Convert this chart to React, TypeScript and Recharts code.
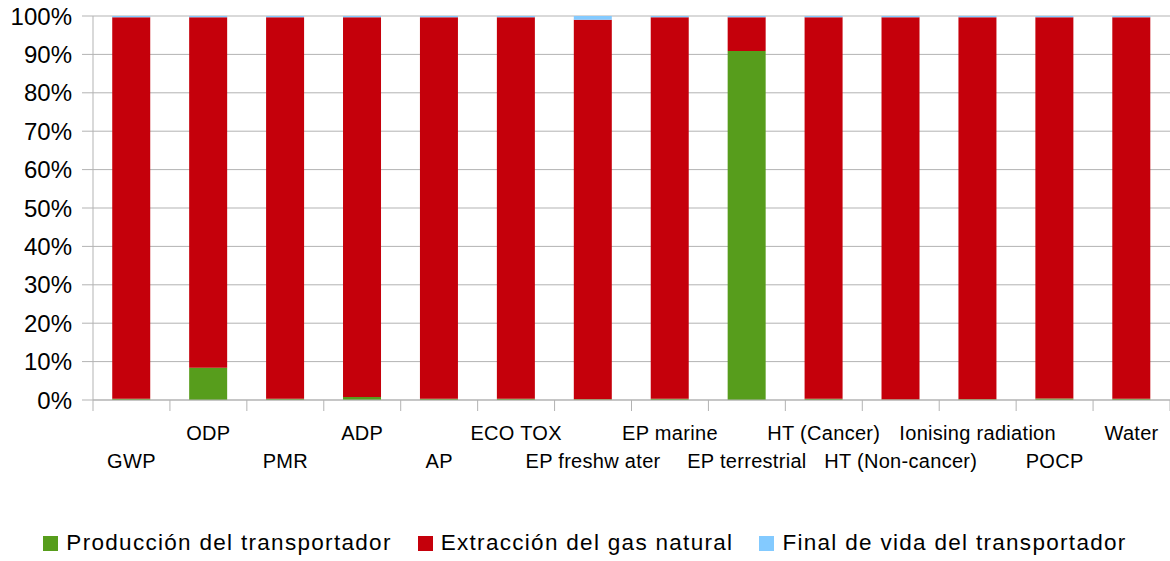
import React from "react";
import { BarChart, Bar, XAxis, YAxis, CartesianGrid, Legend } from "recharts";

const categories = [
  "GWP", "ODP", "PMR", "ADP", "AP", "ECO TOX", "EP freshw ater", "EP marine",
  "EP terrestrial", "HT (Cancer)", "HT (Non-cancer)", "Ionising radiation", "POCP", "Water",
];
const produccion = [0.3, 8.4, 0.3, 0.8, 0.3, 0.3, 0.2, 0.3, 90.9, 0.3, 0.1, 0.2, 0.4, 0.3];
const finalVida = [0.3, 0.3, 0.3, 0.3, 0.3, 0.3, 1.0, 0.3, 0.3, 0.3, 0.3, 0.3, 0.3, 0.3];
const extraccion = produccion.map((p, i) => +(100 - p - finalVida[i]).toFixed(2));
const yTicks = [0, 10, 20, 30, 40, 50, 60, 70, 80, 90, 100];

const seriesNames = ["Producción del transportador", "Extracción del gas natural", "Final de vida del transportador"];
const seriesKeys = ["produccion", "extraccion", "finalVida"];
const seriesColors = ["#579d1c", "#c5000b", "#83caff"];

const data = categories.map((c, i) => ({
  name: c,
  produccion: produccion[i],
  extraccion: extraccion[i],
  finalVida: finalVida[i],
}));

const FONT = '"Liberation Sans", Arial, sans-serif';
const GRID = "#b3b3b3";

const XTick = (props: any) => {
  const { x, y, payload, index, width, visibleTicksCount } = props;
  const n = visibleTicksCount || categories.length;
  const band = (width || 1077) / n;
  const left = x - band / 2;
  const upper = index % 2 === 1;
  return (
    <g>
      <line x1={left} y1={y} x2={left} y2={y + 11} stroke={GRID} strokeWidth={1} />
      {index === n - 1 && (
        <line x1={left + band} y1={y} x2={left + band} y2={y + 11} stroke={GRID} strokeWidth={1} />
      )}
      <text
        x={x}
        y={y + (upper ? 40 : 68)}
        textAnchor="middle"
        fill="#000"
        fontSize={20}
        fontFamily={FONT}
        letterSpacing={0.3}
      >
        {payload.value}
      </text>
    </g>
  );
};

const LegendContent = () => (
  <div
    style={{
      display: "flex",
      justifyContent: "center",
      alignItems: "center",
      height: 36,
      fontFamily: FONT,
      fontSize: 22.5,
      letterSpacing: 1.3,
      color: "#000",
      whiteSpace: "nowrap",
    }}
  >
    {seriesNames.map((n, i) => (
      <div key={n} style={{ display: "flex", alignItems: "center", marginRight: i < 2 ? 26 : 0 }}>
        <span style={{ display: "inline-block", width: 15, height: 15, background: seriesColors[i], marginRight: 8 }} />
        <span>{n}</span>
      </div>
    ))}
  </div>
);

export default function App() {
  return (
    <div style={{ position: "absolute", left: 0, top: 0, width: 1170, height: 561, background: "#fff" }}>
      <BarChart
        width={1170}
        height={561}
        data={data}
        margin={{ top: 16, right: 0, left: 0, bottom: 0 }}
        barCategoryGap="25%"
      >
        <CartesianGrid horizontal vertical={false} stroke={GRID} strokeDasharray="" />
        <XAxis
          dataKey="name"
          interval={0}
          height={125}
          tickLine={false}
          tickSize={0}
          tickMargin={0}
          axisLine={{ stroke: GRID }}
          tick={<XTick />}
        />
        <YAxis
          width={93}
          domain={[0, 100]}
          ticks={yTicks}
          interval={0}
          tickFormatter={(v: number) => `${v}%`}
          tickSize={11}
          tickMargin={10}
          tickLine={{ stroke: GRID }}
          axisLine={{ stroke: GRID }}
          tick={{ fill: "#000", fontSize: 24, fontFamily: FONT }}
        />
        <Legend verticalAlign="bottom" align="center" content={<LegendContent />} wrapperStyle={{ height: 36 }} />
        {seriesKeys.map((k, i) => (
          <Bar key={k} dataKey={k} name={seriesNames[i]} stackId="a" fill={seriesColors[i]} isAnimationActive={false} />
        ))}
      </BarChart>
    </div>
  );
}
